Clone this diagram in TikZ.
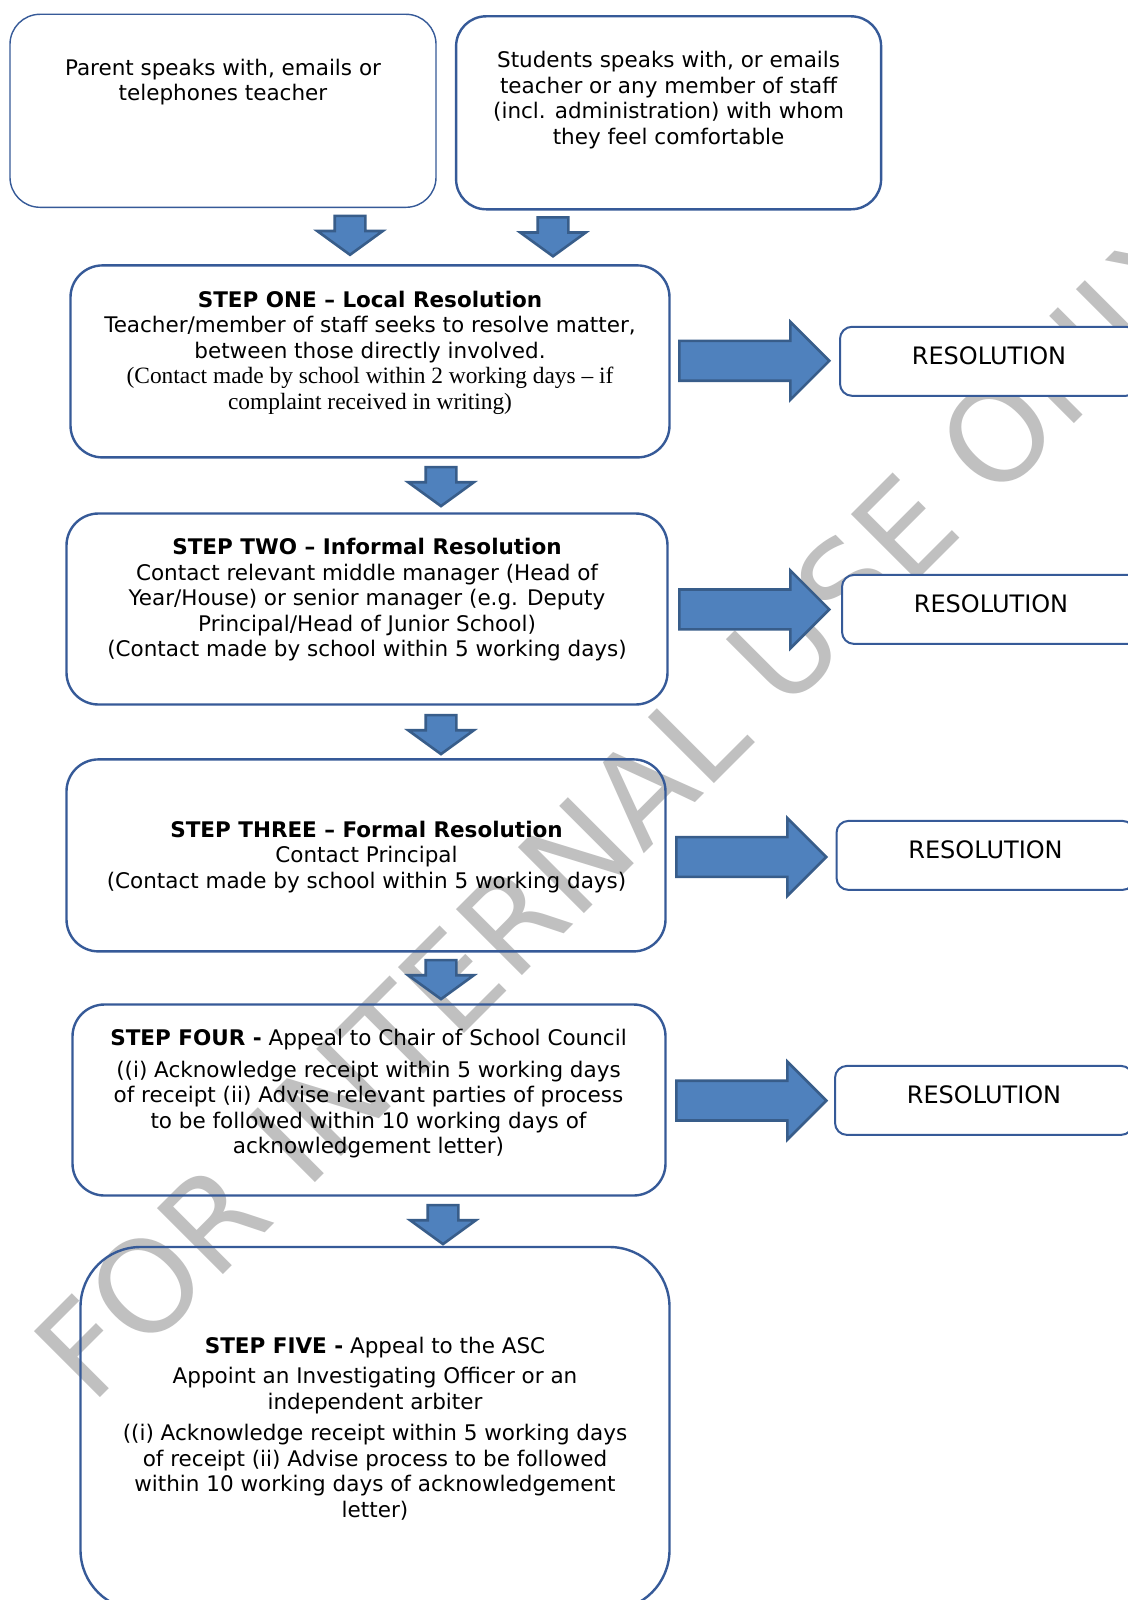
\documentclass[tikz,border=0pt]{standalone}
\usepackage{fontspec}
\setmainfont{DejaVu Sans}
\newfontfamily\timesfont{Liberation Serif}
\usetikzlibrary{shapes.arrows}
\definecolor{boxline}{RGB}{54,90,152}
\definecolor{arrowfill}{RGB}{79,129,189}
\definecolor{arrowline}{RGB}{56,93,138}
\definecolor{watermark}{RGB}{192,192,192}
\newcommand{\serifline}{\timesfont\fontsize{11.7}{13.75}\selectfont}

\begin{document}
\begin{tikzpicture}[x=0.5pt,y=-0.5pt,
    stepbox/.style={draw=boxline, line width=1.2pt, rounded corners=16pt, inner sep=0pt},
    steptext/.style={align=center, inner sep=0pt, font=\fontsize{10.75}{12.75}\selectfont},
    resbox/.style={draw=boxline, fill=white, line width=1pt, rounded corners=6pt,
      minimum width=149pt, minimum height=34.5pt, text depth=5.5pt, font=\fontsize{12}{14}\selectfont},
    rightarrow/.style={single arrow, draw=arrowline, fill=arrowfill, line width=1.3pt, anchor=tail,
      inner xsep=0pt, inner ysep=9.3pt, minimum height=75pt, single arrow head extend=9.5pt,
      single arrow tip angle=90},
    downarrow/.style={single arrow, draw=arrowline, fill=arrowfill, line width=1.3pt, anchor=tail,
      inner xsep=0pt, inner ysep=7pt, minimum height=19.5pt, single arrow head extend=8.75pt,
      single arrow tip angle=108, rotate=-90}]

        \fill[white] (0,0) rectangle (1128,1600);
        \useasboundingbox (0,0) rectangle (1128,1600);

        \node[anchor=base west, rotate=45, inner sep=0pt, text=watermark, font=\fontsize{64}{64}\selectfont]
          (stamp) at (91,1407) {FOR INTERNAL USE ONLY};

        \begin{scope}[every node/.style={stepbox}]
          \node[minimum width=213pt, minimum height=96.5pt, line width=.7pt, rounded corners=15pt] (parent) at (223,110.8) {};
          \node[minimum width=212.5pt, minimum height=96.5pt, rounded corners=15pt] (student) at (668.6,112.8) {};
          \node[minimum width=299.5pt, minimum height=96pt] (one)   at (370,361.4)  {};
          \node[minimum width=300.5pt, minimum height=95.5pt] (two)   at (367,609)    {};
          \node[minimum width=299.5pt, minimum height=96pt] (three) at (366,855.4)  {};
          \node[minimum width=296.5pt, minimum height=95.5pt] (four)  at (369,1100)   {};
          \node[minimum width=294.5pt, minimum height=181.5pt, rounded corners=30pt] (five) at (375,1428.5) {};
        \end{scope}

        \begin{scope}[every node/.style={resbox}]
          \node (res1) at (989,361.3)  {RESOLUTION};
          \node (res2) at (991,609.4)  {RESOLUTION};
          \node (res3) at (985.5,855.4) {RESOLUTION};
          \node (res4) at (984,1100.4) {RESOLUTION};
        \end{scope}

        \begin{scope}[every node/.style={rightarrow}]
          \node (go1) at (678,360.8)  {};
          \node (go2) at (678,609.4)  {};
          \node (go3) at (675,857)    {};
          \node (go4) at (675,1100.6) {};
        \end{scope}

        \begin{scope}[every node/.style={downarrow}]
          \node (down1) at (350,214.5) {};
          \node (down2) at (553,216)   {};
          \node (down3) at (441,465.8) {};
          \node (down4) at (441,713.8) {};
          \node (down5) at (441,958.8) {};
          \node (down6) at (443,1203.8) {};
        \end{scope}

        \begin{scope}[every node/.style={steptext}]
          \node (parenttext) at (223,82.2) {Parent speaks with, emails or\\telephones teacher};
          \node (studenttext) at (668.6,100) {Students speaks with, or emails\\teacher or any member of staff\\(incl. administration) with whom\\they feel comfortable};
          \node (onetext) at (370,352.5) {\textbf{STEP ONE – Local Resolution}\\
            Teacher/member of staff seeks to resolve matter,\\
            between those directly involved.\\
            {\serifline (Contact made by school within 2 working days – if}\\
            {\serifline complaint received in writing)}};
          \node (twotext) at (367,599.6) {\textbf{STEP TWO – Informal Resolution}\\
            Contact relevant middle manager (Head of\\
            Year/House) or senior manager (e.g. Deputy\\
            Principal/Head of Junior School)\\
            (Contact made by school within 5 working days)};
          \node (threetext) at (366.5,857) {\textbf{STEP THREE – Formal Resolution}\\
            Contact Principal\\
            (Contact made by school within 5 working days)};
          \node (fourtext) at (368.5,1094) {\textbf{STEP FOUR -} Appeal to Chair of School Council\\[3pt]
            ((i) Acknowledge receipt within 5 working days\\
            of receipt (ii) Advise relevant parties of process\\
            to be followed within 10 working days of\\
            acknowledgement letter)};
          \node (fivetext) at (375,1428.6) {\textbf{STEP FIVE -} Appeal to the ASC\\[2.5pt]
            Appoint an Investigating Officer or an\\
            independent arbiter\\[3pt]
            ((i) Acknowledge receipt within 5 working days\\
            of receipt (ii) Advise process to be followed\\
            within 10 working days of acknowledgement\\
            letter)};
        \end{scope}

      \end{tikzpicture}
\end{document}
